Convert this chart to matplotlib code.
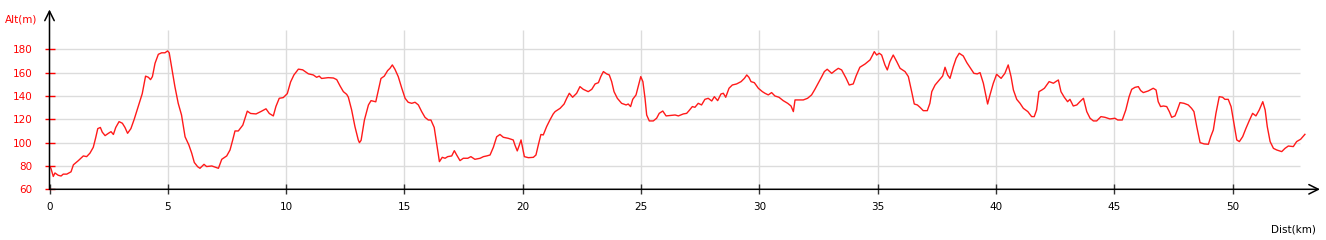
import matplotlib
matplotlib.use("Agg")
import matplotlib.pyplot as plt

# elevation profile (km, m)
dist_km = [0.00, 0.06, 0.16, 0.23, 0.37, 0.49, 0.58, 0.73, 0.91, 1.01, 1.22, 1.43, 1.57, 1.71,
           1.85, 1.95, 2.04, 2.15, 2.23, 2.35, 2.49, 2.60, 2.70, 2.80, 2.94, 3.08, 3.19, 3.30,
           3.44, 3.58, 3.75, 3.92, 4.06, 4.18, 4.27, 4.35, 4.46, 4.60, 4.74, 4.88, 4.99, 5.06,
           5.16, 5.30, 5.44, 5.58, 5.73, 5.89, 6.01, 6.12, 6.26, 6.36, 6.53, 6.64, 6.86, 7.14,
           7.28, 7.49, 7.63, 7.74, 7.84, 7.98, 8.17, 8.36, 8.50, 8.73, 8.93, 9.15, 9.29, 9.46,
           9.57, 9.71, 9.88, 10.05, 10.19, 10.33, 10.52, 10.70, 10.94, 11.15, 11.29, 11.40,
           11.50, 11.78, 12.00, 12.14, 12.28, 12.42, 12.56, 12.63, 12.77, 12.91, 13.05, 13.10,
           13.17, 13.31, 13.48, 13.59, 13.79, 13.90, 14.01, 14.15, 14.29, 14.39, 14.49, 14.60,
           14.74, 14.89, 15.03, 15.16, 15.31, 15.45, 15.59, 15.73, 15.87, 16.01, 16.12, 16.26,
           16.36, 16.48, 16.60, 16.72, 16.83, 17.00, 17.11, 17.21, 17.35, 17.49, 17.68, 17.81,
           17.98, 18.20, 18.34, 18.48, 18.62, 18.76, 18.90, 19.04, 19.18, 19.39, 19.60, 19.67,
           19.77, 19.86, 19.93, 20.00, 20.07, 20.24, 20.45, 20.56, 20.66, 20.77, 20.87, 21.01,
           21.15, 21.29, 21.37, 21.58, 21.75, 21.86, 21.97, 22.11, 22.28, 22.42, 22.56, 22.77,
           22.92, 23.06, 23.20, 23.30, 23.41, 23.55, 23.66, 23.76, 23.86, 24.00, 24.18, 24.37,
           24.46, 24.56, 24.65, 24.79, 24.88, 24.99, 25.08, 25.17, 25.24, 25.35, 25.52, 25.66,
           25.77, 25.92, 26.06, 26.23, 26.44, 26.58, 26.79, 26.93, 27.03, 27.17, 27.28, 27.42,
           27.56, 27.70, 27.84, 27.99, 28.10, 28.24, 28.38, 28.48, 28.58, 28.72, 28.86, 29.04,
           29.23, 29.37, 29.47, 29.56, 29.65, 29.79, 29.96, 30.13, 30.24, 30.38, 30.52, 30.66,
           30.83, 31.01, 31.20, 31.34, 31.44, 31.51, 31.65, 31.86, 32.04, 32.21, 32.35, 32.49,
           32.64, 32.75, 32.87, 33.06, 33.20, 33.34, 33.48, 33.67, 33.80, 33.97, 34.09, 34.25,
           34.47, 34.68, 34.79, 34.86, 34.96, 35.07, 35.17, 35.31, 35.41, 35.52, 35.66, 35.81,
           35.95, 36.16, 36.30, 36.44, 36.55, 36.68, 36.79, 36.93, 37.10, 37.21, 37.29, 37.43,
           37.61, 37.75, 37.85, 37.96, 38.06, 38.20, 38.32, 38.45, 38.62, 38.77, 38.90, 39.07,
           39.21, 39.33, 39.47, 39.57, 39.65, 39.75, 39.89, 40.03, 40.22, 40.38, 40.52, 40.64,
           40.74, 40.88, 41.02, 41.16, 41.35, 41.51, 41.62, 41.72, 41.82, 41.94, 42.05, 42.15,
           42.25, 42.43, 42.53, 42.64, 42.75, 42.89, 43.03, 43.13, 43.27, 43.42, 43.55, 43.70,
           43.84, 43.98, 44.12, 44.26, 44.44, 44.61, 44.82, 45.03, 45.15, 45.34, 45.49, 45.63,
           45.74, 45.88, 46.02, 46.12, 46.23, 46.44, 46.65, 46.77, 46.86, 46.96, 47.08, 47.22,
           47.33, 47.43, 47.57, 47.67, 47.78, 47.95, 48.13, 48.27, 48.37, 48.49, 48.63, 48.80,
           48.98, 49.08, 49.19, 49.30, 49.44, 49.58, 49.68, 49.82, 49.94, 50.06, 50.18, 50.29,
           50.43, 50.57, 50.71, 50.85, 50.99, 51.13, 51.28, 51.38, 51.47, 51.59, 51.73, 51.87,
           52.08, 52.22, 52.36, 52.57, 52.71, 52.88, 53.06]
alt_m = [80, 78, 71, 74, 72, 71.4, 73, 73, 75, 81, 84.6, 88.6, 88, 91,
         96, 104, 112, 113, 109, 106, 108, 109.4, 107, 113, 118, 116.6, 113, 108,
         112, 120, 131, 142, 157, 156, 154, 156.6, 168, 175.7, 177, 177, 178.6, 177,
         165, 148, 133.7, 123.7, 105, 98, 91, 83, 79.4, 78, 81.4, 79.5, 80, 78,
         85.7, 88.6, 93.7, 102, 110, 110, 115, 127, 125, 124.6, 126.6, 129, 125, 122.9,
         131, 138, 138.6, 142, 152, 158, 163, 162.4, 159, 158, 156, 157,
         155, 155.7, 155.4, 154, 148.6, 143.7, 141.4, 139, 128, 113.7, 102.3, 100,
         102, 119.4, 132.3, 136, 135, 145, 155, 157, 161.7, 163.7, 166.6, 162.9,
         156.6, 146.6, 138, 134.6, 133.7, 134.6, 132.3, 126.6, 121.7, 119.4, 119.4, 113,
         99.4, 83.7, 87.4, 86.6, 88, 88.6, 93.1, 89.4, 84.6, 86.6, 86.6, 88,
         85.7, 86.6, 88, 88.6, 89.4, 96, 105, 107, 104.6, 103.7, 102.3, 98,
         92.9, 98, 102.3, 95, 88, 87.1, 87.4, 89.4, 98, 107, 106.6, 113.7,
         119.4, 124.6, 126.6, 129.4, 133.1, 138, 142.3, 138.9, 142.3, 148, 145.7, 143.7,
         145.7, 150.3, 151.4, 156.6, 160.9, 158.9, 158, 152.3, 143.7, 138, 133.7, 132.3,
         133.1, 130.9, 137.1, 140.9, 148, 156.6, 152.3, 138, 123.7, 118.6, 118.6, 120.9,
         125.1, 127.1, 122.9, 123.3, 123.7, 122.9, 124.6, 125.1, 127.4, 130.9, 130.3, 133.7,
         132.3, 137.1, 138, 135.7, 139.4, 136, 141.7, 142.3, 138.9, 146.6, 149.4, 150.3,
         152.3, 155.1, 158, 156, 152.3, 151.4, 146.6, 143.7, 142.3, 140.9, 142.9, 140,
         138.9, 136, 133.7, 131.4, 126.6, 136.6, 136.6, 136.6, 138, 140.9, 145.7, 150.9,
         156.6, 160.9, 162.9, 159.4, 161.7, 163.7, 162.3, 155.1, 149.4, 150.3, 157.1, 164.6,
         167.4, 170.9, 175.1, 178, 175.1, 176.6, 175.1, 166.6, 162.3, 169.4, 175.1, 169.4,
         163.7, 160.9, 156.6, 143.7, 133.1, 132.3, 130.3, 127.4, 127.4, 133.7, 143.7, 149.4,
         153.7, 157.1, 164.6, 158, 155.1, 165.1, 172.3, 176.6, 174.3, 168.6, 164.6, 159.4,
         158.9, 160, 150.9, 140.9, 133.1, 140.9, 150.9, 158.6, 155.1, 159.4, 166.6, 156.6,
         145.1, 137.1, 133.7, 129.4, 126.6, 122.3, 122.3, 128, 143.7, 145.1, 146.6, 149.4,
         152.3, 150.9, 152.3, 153.7, 143.7, 138.9, 135.1, 137.1, 131.4, 132.3, 135.1, 138,
         126.6, 120.9, 118.6, 118.6, 122.3, 121.7, 120.3, 120.9, 119.4, 119.4, 128, 139.4,
         145.7, 147.4, 148, 144.6, 142.9, 144.3, 146.6, 145.1, 135.1, 130.9, 131.4, 130.9,
         126.6, 121.7, 122.9, 128, 134.3, 133.7, 132.3, 129.4, 126.6, 113.7, 100, 98.9,
         98.6, 105.1, 110.9, 125.1, 139.4, 138.9, 137.1, 137.1, 130.9, 116.6, 102.3, 100.9,
         105.1, 112.3, 118.9, 125.1, 122.9, 128, 135.1, 128, 113.7, 100.9, 95.1, 93.7,
         92.3, 95.1, 97.1, 96.6, 100.9, 102.9, 107.1]

x_ticks = [0, 5, 10, 15, 20, 25, 30, 35, 40, 45, 50]
y_ticks = [60, 80, 100, 120, 140, 160, 180]

W, H = 1326, 240
x0, y0 = 49.5, 189.3          # pixel position of origin
px_km, px_m = 23.66, 1.1667   # pixel scale
x_end, y_top = 1320, 9.5      # arrow tips

fig = plt.figure(figsize=(W / 100, H / 100), dpi=100)
ax = fig.add_axes([x0 / W, 1 - y0 / H, (x_end - x0) / W, (y0 - y_top) / H])
xmax = (x_end - x0) / px_km
ymax = 60 + (y0 - y_top) / px_m
ax.set_xlim(0, xmax)
ax.set_ylim(60, ymax)

grid_top = 60 + (y0 - 30) / px_m
grid_right = (1300 - x0) / px_km
ax.vlines(x_ticks[1:], 60, grid_top, color="#dcdcdc", lw=1.0, zorder=1)
ax.hlines(y_ticks[1:], 0, grid_right, color="#dcdcdc", lw=1.0, zorder=1)

ax.plot(dist_km, alt_m, color="#ff1a1a", lw=1.0, zorder=3)

for s in ax.spines.values():
    s.set_visible(False)

arrow = dict(arrowstyle="->", lw=1.1, color="black", mutation_scale=17,
             shrinkA=0, shrinkB=0)
ax.annotate("", xy=(xmax, 60), xytext=(0, 60), arrowprops=arrow, annotation_clip=False)
ax.annotate("", xy=(0, ymax), xytext=(0, 60), arrowprops=arrow, annotation_clip=False)

ax.set_xticks(x_ticks)
ax.set_yticks(y_ticks)
ax.tick_params(axis="x", direction="inout", length=7, width=1, color="#333333",
               labelsize=7.5, labelcolor="black", pad=6)
ax.tick_params(axis="y", direction="inout", length=7, width=1, color="red",
               labelsize=7.5, labelcolor="red", pad=9)

fig.text(5 / W, 1 - 19 / H, "Alt(m)", color="red", fontsize=7.5, ha="left", va="center")
fig.text(1316 / W, 1 - 229 / H, "Dist(km)", color="black", fontsize=7.5, ha="right", va="center")

fig.savefig("out.png", dpi=100)
